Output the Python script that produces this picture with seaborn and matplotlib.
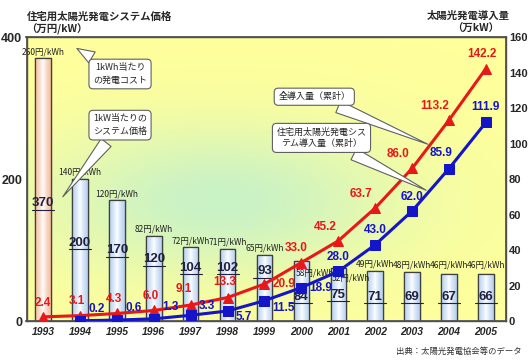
import numpy as np
import pandas as pd
import seaborn as sns
import matplotlib.pyplot as plt
from matplotlib.colors import LinearSegmentedColormap

sns.set_theme(style="white")
plt.rcParams['font.family'] = ['Noto Sans CJK JP', 'DejaVu Sans']
NUM_FONT = "Liberation Sans"

years = ["1993", "1994", "1995", "1996", "1997", "1998", "1999",
         "2000", "2001", "2002", "2003", "2004", "2005"]
system_price = [370, 200, 170, 120, 104, 102, 93, 84, 75, 71, 69, 67, 66]
kwh_cost = ["260円/kWh", "140円/kWh", "120円/kWh", "82円/kWh", "72円/kWh",
            "71円/kWh", "65円/kWh", "58円/kWh", "52円/kWh", "49円/kWh",
            "48円/kWh", "46円/kWh", "46円/kWh"]
total_install = [2.4, 3.1, 4.3, 6.0, 9.1, 13.3, 20.9, 33.0, 45.2, 63.7, 86.0, 113.2, 142.2]
home_install = [0.2, 0.6, 1.3, 3.3, 5.7, 11.5, 18.9, 28.0, 43.0, 62.0, 85.9, 111.9]

# layout only: where the price number sits inside each bar (left-axis units)
label_y = [166, 110, 100, 87, 75, 75, 70, 34, 37, 34, 34, 34, 34]

df_bar = pd.DataFrame({"year": years, "price": system_price})
df_tot = pd.DataFrame({"x": np.arange(len(years)), "v": total_install})
df_home = pd.DataFrame({"x": np.arange(1, len(years)), "v": home_install})

fig = plt.figure(figsize=(5.3, 3.6), dpi=100)
ax = fig.add_axes([0.05, 0.108, 0.905, 0.789])

# background gradient (yellow with a pale green patch)
gx, gy = np.meshgrid(np.linspace(0, 1, 200), np.linspace(1, 0, 150))
g = np.exp(-(((gx - 0.4) ** 2) / 0.14 + ((gy - 0.42) ** 2) / 0.07))
bg_cmap = LinearSegmentedColormap.from_list("bg", ["#FFFF9C", "#C9F2C6"])
ax.imshow(g, cmap=bg_cmap, extent=[0, 1, 0, 1], transform=ax.transAxes,
          aspect="auto", zorder=0, vmin=0, vmax=1)

palette = ["#F4BC9C"] + ["#B4D0F0"] * (len(years) - 1)
sns.barplot(data=df_bar, x="year", y="price", hue="year", palette=palette,
            legend=False, width=0.42, edgecolor="#404040", linewidth=0.9,
            ax=ax, zorder=2)

# horizontal shading inside each bar
shade = np.abs(np.linspace(-1, 1, 50))[None, :]
for i, p in enumerate(ax.patches):
    cm = LinearSegmentedColormap.from_list("b%d" % i, ["#FFFFFF", palette[i]])
    x0, w, h = p.get_x(), p.get_width(), p.get_height()
    im = ax.imshow(shade ** 0.8, cmap=cm, extent=[x0, x0 + w, 0, h],
                   aspect="auto", zorder=2.1, vmin=0, vmax=1)
    im.set_clip_path(p)
    ax.plot([x0, x0, x0 + w, x0 + w, x0], [0, h, h, 0, 0], color="#404040",
            lw=0.9, zorder=2.2)

ax.set_xlim(-0.45, 12.55)
ax.set_ylim(0, 400)
ax.set_yticks([0, 200, 400])
ax.set_xlabel("")
ax.set_ylabel("")
ax.tick_params(axis="y", length=0, pad=3)
ax.tick_params(axis="x", length=0, pad=4)
for t in ax.get_yticklabels():
    t.set_fontsize(9)
    t.set_fontweight("bold")
    t.set_family(NUM_FONT)
ax.set_xticks(range(len(years)))
ax.set_xticklabels(years, fontsize=7.5, fontweight="bold", fontstyle="italic",
                   family=NUM_FONT)

for i, v in enumerate(system_price):
    ax.text(i, label_y[i], str(v), ha="center", va="center", fontsize=9.5,
            fontweight="bold", color="#202040", family=NUM_FONT, zorder=3)
    ax.plot([i - 0.3, i + 0.3], [label_y[i] - 9, label_y[i] - 9], color="#202040",
            lw=0.8, zorder=3)

cost_dx = [0, 0, 0, 0, 0, 0, 0, 0.38, 0.35, 0, 0, 0, 0]
cost_dy = [3, 3, 3, 3, 3, 3, 3, -22, -20, 3, 3, 3, 3]
for i, s in enumerate(kwh_cost):
    top = max(system_price[i], 69)
    ax.text(i + cost_dx[i], top + cost_dy[i], s, ha="center", va="bottom",
            fontsize=6.1, fontstyle="italic", color="#202020", zorder=3)

for s in ax.spines.values():
    s.set_color("#505050")
    s.set_linewidth(1.0)

ax2 = ax.twinx()
ax2.set_ylim(0, 160)
ax2.set_yticks(range(0, 161, 20))
ax2.tick_params(axis="y", length=0, pad=2)
for t in ax2.get_yticklabels():
    t.set_fontsize(8)
    t.set_fontweight("bold")
    t.set_family(NUM_FONT)
ax2.grid(False)
for s in ax2.spines.values():
    s.set_color("#505050")

red = "#E81818"
blue = "#1414C8"
sns.lineplot(data=df_tot, x="x", y="v", ax=ax2, color=red, lw=2.2,
             marker="^", markersize=7, markeredgecolor=red, zorder=4)
sns.lineplot(data=df_home, x="x", y="v", ax=ax2, color=blue, lw=2.2,
             marker="s", markersize=7.5, markeredgecolor=blue, zorder=5)
ax2.set_xlabel("")
ax2.set_ylabel("")
ax2.set_xlim(-0.45, 12.55)

red_off = [(0, 6), (-2, 6), (-2, 6), (-2, 6), (-5, 7), (-2, 7), (14, 0), (-4, 6),
           (-9, 6), (-10, 6), (-10, 6), (-10, 6), (-3, 6)]
for i, v in enumerate(total_install):
    ax2.annotate("%.1f" % v, (i, v), xytext=red_off[i], textcoords="offset points",
                 ha="center", va="bottom" if red_off[i][1] else "center",
                 fontsize=8.5, fontweight="bold", color=red, family=NUM_FONT,
                 zorder=6)

blue_off = [(12, 4), (12, 4), (12, 4), (12, 2), (12, -4), (14, -5), (14, 0),
            (0, 6), (0, 6), (0, 6), (-6, 7), (0, 7)]
for j, v in enumerate(home_install):
    dx, dy = blue_off[j]
    ax2.annotate("%.1f" % v, (j + 1, v), xytext=(dx, dy), textcoords="offset points",
                 ha="center", va="bottom" if dy > 0 else "center",
                 fontsize=8.5, fontweight="bold", color=blue, family=NUM_FONT,
                 zorder=6)

box = dict(boxstyle="round,pad=0.45", fc="white", ec="#606060", lw=0.8)
wedge = dict(arrowstyle="wedge,tail_width=1.4,shrink_factor=0.5", fc="white",
             ec="#606060", lw=0.8)
ax.annotate("1kWh当たり\nの発電コスト", xy=(0.1, 0.965), xycoords="axes fraction",
            xytext=(0.195, 0.87), textcoords="axes fraction", ha="center",
            va="center", fontsize=6.5, bbox=box, arrowprops=wedge, zorder=7,
            linespacing=1.5)
ax.annotate("1kW当たりの\nシステム価格", xy=(0.072, 0.43), xycoords="axes fraction",
            xytext=(0.195, 0.69), textcoords="axes fraction", ha="center",
            va="center", fontsize=6.5, bbox=box, arrowprops=wedge, zorder=7,
            linespacing=1.5)
ax2.annotate("全導入量（累計）", xy=(10.5, 99), xycoords="data",
             xytext=(0.6, 0.79), textcoords="axes fraction", ha="center",
             va="center", fontsize=6.5, bbox=box, arrowprops=wedge, zorder=7)
ax2.annotate("住宅用太陽光発電シス\nテム導入量（累計）", xy=(10.45, 73), xycoords="data",
             xytext=(0.615, 0.645), textcoords="axes fraction", ha="center",
             va="center", fontsize=6.5, bbox=box, arrowprops=wedge, zorder=7,
             linespacing=1.4)

fig.text(0.05, 0.955, "住宅用太陽光発電システム価格", fontsize=7.5, fontweight="bold",
         fontstyle="italic", ha="left", va="center")
fig.text(0.05, 0.92, "（万円/kW）", fontsize=7.5, fontweight="bold",
         fontstyle="italic", ha="left", va="center")
fig.text(0.962, 0.955, "太陽光発電導入量", fontsize=7.5, fontweight="bold",
         fontstyle="italic", ha="right", va="center")
fig.text(0.942, 0.92, "（万kW）", fontsize=7.5, fontweight="bold",
         fontstyle="italic", ha="right", va="center")
fig.text(0.985, 0.025, "出典：太陽光発電協会等のデータ", fontsize=6, ha="right",
         va="center", color="#303030")

fig.savefig("out.png", dpi=100)
